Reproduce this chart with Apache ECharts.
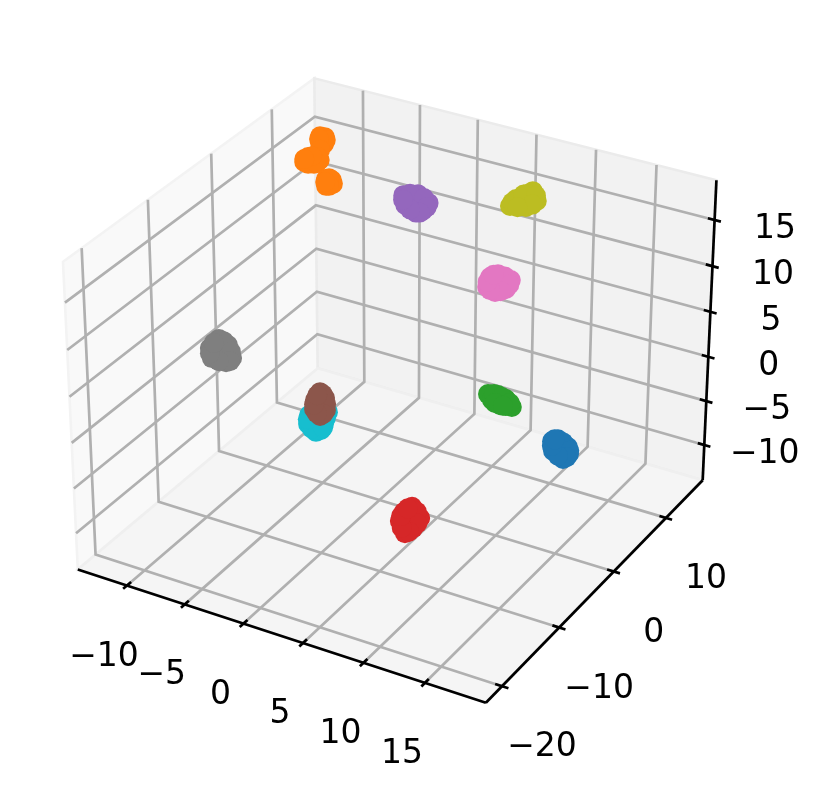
<!DOCTYPE html>
<html><head><meta charset="utf-8">
<style>html,body{margin:0;padding:0;background:#fff}#c{width:824px;height:795px}</style>
<script src="https://cdn.jsdelivr.net/npm/echarts@6/dist/echarts.min.js"></script>
</head><body><div id="c"></div>
<script>
// Axis limits and ticks
const xLim = [-14.32, 19.88], yLim = [-22.74, 17.30], zLim = [-14.07, 19.25];
const xTicks = [-10, -5, 0, 5, 10, 15];
const yTicks = [-20, -10, 0, 10];
const zTicks = [-10, -5, 0, 5, 10, 15];

// Cluster points (x, y, z)
const blueX = [13.39, 12.74, 13.08, 13.86, 14.05, 13.76, 12.98, 13.48, 14.01, 13.96, 13.37, 12.81, 12.86];
const blueY = [4.14, 4.09, 4.42, 4.56, 4.34, 3.90, 3.77, 4.53, 4.48, 4.12, 3.80, 3.91, 4.27];
const blueZ = [-5.39, -4.73, -4.57, -5.23, -5.80, -6.21, -5.55, -4.85, -5.53, -6.07, -5.93, -5.12, -4.58];
const orangeX = [-11.55, -11.75, -11.35, -11.41, -11.62, -11.30, -11.76, -11.49, -11.83, -12.30, -12.14, -11.32, -11.63, -11.50, -12.01, -11.46, -11.90, -12.35, -10.29, -10.54, -10.14, -10.00, -10.41, -10.36, -10.22, -10.54];
const orangeY = [13.15, 13.21, 13.09, 13.39, 12.95, 13.32, 13.06, 12.69, 11.94, 11.52, 11.88, 12.28, 11.88, 12.31, 11.62, 12.04, 12.09, 11.63, 11.85, 11.83, 12.05, 11.95, 11.57, 12.00, 11.70, 11.68];
const orangeZ = [15.28, 15.61, 14.95, 15.53, 15.03, 15.28, 15.36, 14.46, 13.57, 13.41, 13.82, 13.57, 13.24, 13.82, 13.24, 13.32, 13.90, 13.65, 11.69, 11.94, 11.85, 11.53, 11.36, 12.02, 11.36, 11.69];
const greenX = [8.64, 7.77, 8.42, 9.00, 9.53, 8.73, 8.13, 9.13, 8.15, 8.71, 9.33, 8.38, 8.94];
const greenY = [3.38, 3.08, 3.48, 3.67, 3.63, 3.20, 3.04, 3.41, 3.34, 3.58, 3.70, 3.05, 3.29];
const greenZ = [-1.31, -0.82, -0.90, -1.23, -1.89, -1.72, -1.31, -1.80, -0.82, -1.06, -1.56, -1.56, -1.80];
const redX = [7.52, 7.41, 6.90, 8.12, 7.44, 7.86, 6.99, 7.79, 8.04, 7.66, 7.14, 6.89, 7.17];
const redY = [-9.95, -9.38, -10.42, -9.45, -10.65, -10.12, -9.91, -9.36, -9.77, -10.43, -10.59, -10.19, -9.62];
const redZ = [-7.32, -6.25, -7.40, -7.16, -8.39, -7.98, -6.66, -6.64, -7.60, -8.27, -7.95, -7.00, -6.37];
const purpleX = [-2.90, -3.87, -2.94, -2.08, -2.31, -2.72, -3.56, -3.46, -2.47, -2.12, -2.48, -3.16, -3.80];
const purpleY = [12.32, 12.06, 12.74, 12.88, 12.32, 11.95, 11.77, 12.41, 12.86, 12.63, 12.12, 11.81, 11.87];
const purpleZ = [11.62, 12.28, 12.36, 11.62, 10.96, 10.80, 11.46, 12.39, 12.03, 11.26, 10.80, 11.08, 11.90];
const brownX = [-2.80, -3.02, -2.59, -3.19, -2.31, -3.09, -2.58, -2.80, -2.41, -2.41, -2.84, -3.17, -3.14];
const brownY = [-4.55, -4.11, -4.11, -4.62, -4.52, -4.99, -4.99, -4.07, -4.29, -4.78, -5.03, -4.83, -4.35];
const brownZ = [-1.65, -0.66, -1.16, -1.32, -2.14, -2.06, -2.64, -0.84, -1.65, -2.46, -2.42, -1.69, -0.92];
const pinkX = [6.42, 6.19, 7.12, 6.33, 5.73, 6.97, 5.74, 6.68, 7.11, 6.67, 5.99, 5.67, 5.92];
const pinkY = [7.72, 8.01, 8.34, 7.22, 7.06, 7.80, 7.56, 8.22, 8.10, 7.49, 7.08, 7.27, 7.79];
const pinkZ = [8.41, 9.15, 8.66, 7.67, 8.08, 7.92, 8.90, 8.96, 8.28, 7.73, 7.82, 8.50, 9.09];
const grayX = [-7.42, -7.75, -8.15, -6.58, -6.88, -7.84, -7.07, -7.41, -6.77, -6.66, -7.35, -8.05, -8.00];
const grayY = [-11.72, -11.40, -12.12, -11.54, -11.95, -12.40, -11.24, -11.28, -11.36, -11.75, -12.22, -12.31, -11.76];
const grayZ = [6.53, 7.43, 6.69, 5.87, 5.54, 5.87, 6.94, 7.25, 6.39, 5.62, 5.62, 6.26, 7.11];
const oliveX = [6.40, 5.70, 5.96, 6.89, 7.32, 6.74, 6.56, 5.78, 6.35, 7.17, 7.10, 6.20];
const oliveY = [11.90, 11.08, 11.60, 12.62, 12.43, 11.73, 12.26, 11.30, 12.12, 12.59, 12.10, 11.36];
const oliveZ = [15.39, 14.81, 15.39, 16.05, 15.23, 14.73, 15.80, 15.14, 15.75, 15.67, 14.93, 14.71];
const cyanX = [-2.72, -3.19, -2.18, -2.54, -2.14, -3.29, -2.26, -2.88, -2.16, -2.17, -3.30, -2.60];
const cyanY = [-5.40, -5.82, -5.13, -5.77, -4.52, -5.44, -5.48, -5.84, -4.83, -5.30, -5.65, -5.00];
const cyanZ = [-3.14, -3.30, -3.30, -3.96, -2.32, -2.56, -3.80, -3.68, -2.81, -3.60, -2.91, -2.70];

// Draw order follows depth: cyan sits behind brown
const clusters = [
  ['#ff7f0e', orangeX, orangeY, orangeZ], ['#9467bd', purpleX, purpleY, purpleZ],
  ['#bcbd22', oliveX, oliveY, oliveZ], ['#e377c2', pinkX, pinkY, pinkZ],
  ['#2ca02c', greenX, greenY, greenZ], ['#1f77b4', blueX, blueY, blueZ],
  ['#17becf', cyanX, cyanY, cyanZ], ['#8c564b', brownX, brownY, brownZ],
  ['#7f7f7f', grayX, grayY, grayZ], ['#d62728', redX, redY, redZ]
];

// mplot3d-style perspective (elev 30, azim -60, dist 10, box 4:4:3)
const elev = 30 * Math.PI / 180, azim = -60 * Math.PI / 180, dist = 10;
const boxK = 1.8294640721620434 * 25 / 24 / Math.sqrt(41);
const box = [4 * boxK, 4 * boxK, 3 * boxK];
const w = [Math.cos(elev) * Math.cos(azim), Math.cos(elev) * Math.sin(azim), Math.sin(elev)];
const un = Math.hypot(w[0], w[1]);
const u = [-w[1] / un, w[0] / un, 0];
const v = [w[1] * u[2] - w[2] * u[1], w[2] * u[0] - w[0] * u[2], w[0] * u[1] - w[1] * u[0]];
function project(x, y, z) {
  const d = [
    ((x - xLim[0]) / (xLim[1] - xLim[0]) - 0.5) * box[0],
    ((y - yLim[0]) / (yLim[1] - yLim[0]) - 0.5) * box[1],
    ((z - zLim[0]) / (zLim[1] - zLim[0]) - 0.5) * box[2]
  ];
  const dot = (a) => a[0] * d[0] + a[1] * d[1] + a[2] * d[2];
  const depth = dist - dot(w);
  return [dot(u) / depth, dot(v) / depth];
}

// Plane range of the projected coordinates across the whole canvas
const planeX = [-396 / 3927, 428 / 3927];
const planeY = [-419.5 / 3927, 375.5 / 3927];

const [x0, x1] = xLim, [y0, y1] = yLim, [z0, z1] = zLim;
const panes = [
  { fill: '#f9f9f9', edge: '#f3f3f3', pts: [[x0,y0,z0],[x0,y1,z0],[x0,y1,z1],[x0,y0,z1]] },
  { fill: '#f2f2f2', edge: '#ebebeb', pts: [[x0,y1,z0],[x1,y1,z0],[x1,y1,z1],[x0,y1,z1]] },
  { fill: '#f5f5f5', edge: '#efefef', pts: [[x0,y0,z0],[x1,y0,z0],[x1,y1,z0],[x0,y1,z0]] }
];

const series = [];
series.push({
  type: 'custom', coordinateSystem: 'cartesian2d', silent: true, z: 1, clip: false,
  data: panes.map((_, i) => [i]),
  renderItem(params, api) {
    const p = panes[api.value(0)];
    return { type: 'polygon',
      shape: { points: p.pts.map(q => api.coord(project(q[0], q[1], q[2]))) },
      style: { fill: p.fill, stroke: p.edge, lineWidth: 2.6 } };
  }
});
function polyline(pts, color, width, z) {
  series.push({ type: 'line', silent: true, z, symbol: 'none', clip: false, animation: false,
    lineStyle: { color, width, cap: 'butt', join: 'miter' },
    data: pts.map(p => project(p[0], p[1], p[2])) });
}
const gridCol = '#b0b0b0', lineW = 2.7;
xTicks.forEach(t => polyline([[t,y0,z0],[t,y1,z0],[t,y1,z1]], gridCol, lineW, 2));
yTicks.forEach(t => polyline([[x1,t,z0],[x0,t,z0],[x0,t,z1]], gridCol, lineW, 2));
zTicks.forEach(t => polyline([[x0,y0,t],[x0,y1,t],[x1,y1,t]], gridCol, lineW, 2));

const tickIn = 0.016, tickOut = 0.015;
const dX = x1 - x0, dY = y1 - y0;
xTicks.forEach(t => polyline([[t,y0 - tickOut*dY,z0],[t,y0 + tickIn*dY,z0]], '#000', lineW, 3));
yTicks.forEach(t => polyline([[x1 - tickIn*dX,t,z0],[x1 + tickOut*dX,t,z0]], '#000', lineW, 3));
zTicks.forEach(t => polyline([[x1 - tickIn*dX,y1,t],[x1 + tickOut*dX,y1,t]], '#000', lineW, 3));
polyline([[x0,y0,z0],[x1,y0,z0]], '#000', lineW, 3);
polyline([[x1,y0,z0],[x1,y1,z0]], '#000', lineW, 3);
polyline([[x1,y1,z0],[x1,y1,z1]], '#000', lineW, 3);

clusters.forEach(c => {
  series.push({ type: 'scatter', silent: true, z: 4, clip: false, symbol: 'circle', symbolSize: 20,
    animation: false, itemStyle: { color: c[0], opacity: 1 },
    data: c[1].map((x, i) => project(x, c[2][i], c[3][i])) });
});

function labels(points, vals, offset) {
  series.push({ type: 'scatter', silent: true, z: 5, clip: false, symbolSize: 0, animation: false,
    itemStyle: { color: '#000', opacity: 1 },
    label: { show: true, position: 'inside', offset, align: 'center', verticalAlign: 'middle',
      formatter: (p) => String(vals[p.dataIndex]).replace('-', '\u2212'),
      fontFamily: 'DejaVu Sans', fontSize: 33, color: '#000', opacity: 1,
      textBorderWidth: 0, textShadowBlur: 0 },
    data: points.map(p => project(p[0], p[1], p[2])) });
}
labels(xTicks.map(t => [t, y0, z0]), xTicks, [-23, 71.5]);
labels(yTicks.map(t => [x1, t, z0]), yTicks, [40, 61.5]);
labels(zTicks.map(t => [x1, y1, t]), zTicks, [60.5, 9.5]);

const chart = echarts.init(document.getElementById('c'), null, { renderer: 'canvas' });
chart.setOption({
  animation: false, backgroundColor: '#fff',
  grid: { left: 0, right: 0, top: 0, bottom: 0 },
  xAxis: { type: 'value', show: false, min: planeX[0], max: planeX[1], scale: true },
  yAxis: { type: 'value', show: false, min: planeY[0], max: planeY[1], scale: true },
  series
});
</script></body></html>
